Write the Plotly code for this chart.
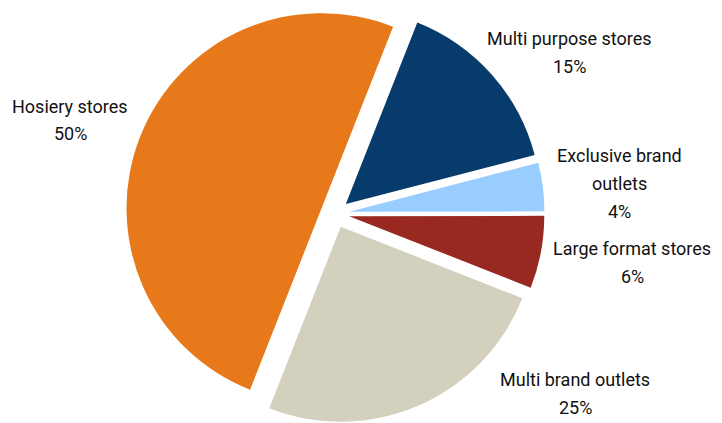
import plotly.graph_objects as go

# Store-channel shares, listed clockwise from the top of the pie
channels = ["Multi purpose stores", "Exclusive brand outlets", "Large format stores",
            "Multi brand outlets", "Hosiery stores"]
shares = [15, 4, 6, 25, 50]
colors = ["#073B6B", "#99CCFF", "#982820", "#D3D0BE", "#E8791A"]

# Label lines for each channel (name split across lines, share appended below)
label_lines = [
    ["Multi purpose stores"],
    ["Exclusive brand", "outlets"],
    ["Large format stores"],
    ["Multi brand outlets"],
    ["Hosiery stores"],
]
# Anchor (x, y of first line) for each label block, in pixels
label_anchor = [(569, 35), (619, 153), (632, 247), (575, 379), (70, 103)]

W, H = 722, 423
LINE_GAP = 28

fig = go.Figure(go.Pie(
    labels=channels,
    values=shares,
    sort=False,
    direction="clockwise",
    rotation=21.5,
    pull=[0.074] * len(shares),
    marker=dict(colors=colors, line=dict(width=0)),
    textinfo="none",
    hoverinfo="label+percent",
    domain=dict(x=[0, 0.928], y=[0, 1]),
    showlegend=False,
))

font = dict(family="Roboto, 'Liberation Sans Narrow', sans-serif", size=18, color="#111111")
annotations = []
for lines, share, (ax, ay) in zip(label_lines, shares, label_anchor):
    texts = lines + [f"{share}%"]
    for k, t in enumerate(texts):
        annotations.append(dict(
            text=t, x=ax / W, y=1 - (ay + k * LINE_GAP) / H,
            xref="paper", yref="paper", xanchor="center", yanchor="middle",
            showarrow=False, font=font,
        ))

fig.update_layout(
    width=W, height=H,
    margin=dict(l=0, r=0, t=4, b=0),
    paper_bgcolor="white", plot_bgcolor="white",
    annotations=annotations,
)

fig.write_html("out.html")
